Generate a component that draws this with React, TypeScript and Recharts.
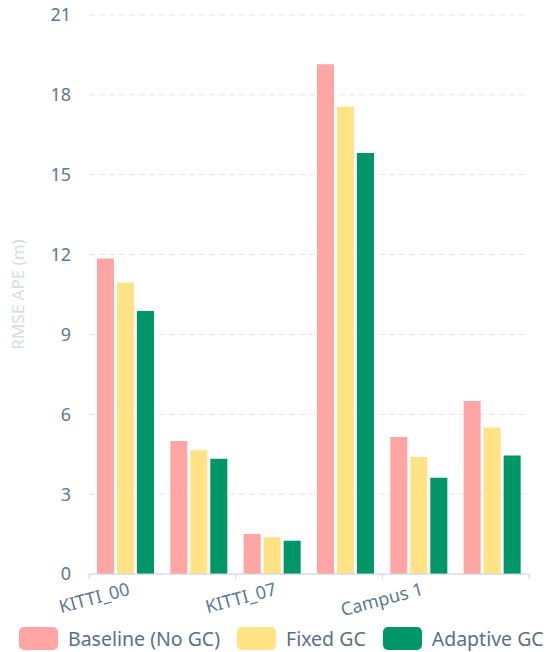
import React from 'react';
import { BarChart, Bar, XAxis, YAxis, CartesianGrid, Legend } from 'recharts';

const categories = ['KITTI_00', 'KITTI_05', 'KITTI_07', 'KITTI_08', 'Campus 1', 'Campus 2'];
const baseline = [11.85, 5.0, 1.5, 19.15, 5.15, 6.5];
const fixedGC = [10.95, 4.65, 1.38, 17.55, 4.4, 5.5];
const adaptiveGC = [9.88, 4.33, 1.25, 15.82, 3.62, 4.45];
const yTicks = [0, 3, 6, 9, 12, 15, 18, 21];

const seriesInfo = [
  { key: 'baseline', name: 'Baseline (No GC)', color: '#ffa5a4' },
  { key: 'fixed', name: 'Fixed GC', color: '#ffe384' },
  { key: 'adaptive', name: 'Adaptive GC', color: '#009768' },
];

const data = categories.map((name, i) => ({
  name,
  baseline: baseline[i],
  fixed: fixedGC[i],
  adaptive: adaptiveGC[i],
}));

const W = 550;
const H = 652;
const MARGIN = { top: 15, right: 21, left: 0, bottom: 0 };
const Y_W = 89;
const PLOT_W = W - MARGIN.left - MARGIN.right - Y_W;
const TICK_SIZE = 5;
const TICK_MARGIN = 4;
const FONT = '"Noto Sans", "Open Sans", sans-serif';

const XTick = (props: any) => {
  const { x, y, payload } = props;
  const band = PLOT_W / categories.length;
  const axisY = y - TICK_SIZE - TICK_MARGIN;
  const idx = payload.index;
  const lines = [x - band / 2];
  if (idx + 2 >= categories.length) lines.push(x + band * 1.5);
  return (
    <g>
      {lines.map((lx, i) => (
        <line key={i} x1={lx} x2={lx} y1={axisY} y2={axisY + 5} stroke="#c9d4df" />
      ))}
      <text
        x={x + 2}
        y={y}
        dy={12}
        textAnchor="end"
        fill="#5b7896"
        fontSize={18}
        fontFamily={FONT}
        transform={`rotate(-15 ${x + 2} ${y})`}
      >
        {payload.value}
      </text>
    </g>
  );
};

const LegendContent = () => (
  <div style={{ display: 'flex', justifyContent: 'flex-start', alignItems: 'center', height: 28, fontFamily: FONT, paddingLeft: 19 }}>
    {seriesInfo.map((s) => (
      <div key={s.key} style={{ display: 'flex', alignItems: 'center', marginRight: 17 }}>
        <span style={{ width: 39, height: 23, borderRadius: 5, background: s.color, display: 'inline-block', marginRight: 10 }} />
        <span style={{ fontSize: 19.5, color: '#5b6f88', whiteSpace: 'nowrap' }}>{s.name}</span>
      </div>
    ))}
  </div>
);

const YLabel = (props: any) => {
  const { viewBox } = props;
  const cy = viewBox.y + viewBox.height / 2;
  const cx = 17;
  return (
    <text
      x={cx}
      y={cy}
      textAnchor="middle"
      dominantBaseline="central"
      fill="#d3dde7"
      fontSize={17}
      fontFamily={FONT}
      transform={`rotate(-90 ${cx} ${cy})`}
    >
      RMSE APE (m)
    </text>
  );
};

export default function App() {
  return (
    <div style={{ position: 'absolute', left: 0, top: 0, width: W, height: H, background: '#fff' }}>
      <BarChart width={W} height={H} data={data} margin={MARGIN} barSize={17} barGap={3}>
        <CartesianGrid vertical={false} stroke="#dfe5ec" strokeDasharray="6 4" />
        <XAxis
          dataKey="name"
          interval={1}
          height={50}
          tickLine={false}
          tickSize={TICK_SIZE}
          tickMargin={TICK_MARGIN}
          axisLine={{ stroke: '#c9d4df' }}
          tick={<XTick />}
        />
        <YAxis
          width={Y_W}
          domain={[0, 21]}
          ticks={yTicks}
          axisLine={false}
          tickLine={false}
          tickMargin={12}
          tick={{ fill: '#5b7896', fontSize: 18, fontFamily: FONT }}
          label={<YLabel />}
        />
        <Legend verticalAlign="bottom" height={28} content={<LegendContent />} />
        {seriesInfo.map((s) => (
          <Bar key={s.key} dataKey={s.key} name={s.name} fill={s.color} isAnimationActive={false} />
        ))}
      </BarChart>
    </div>
  );
}
